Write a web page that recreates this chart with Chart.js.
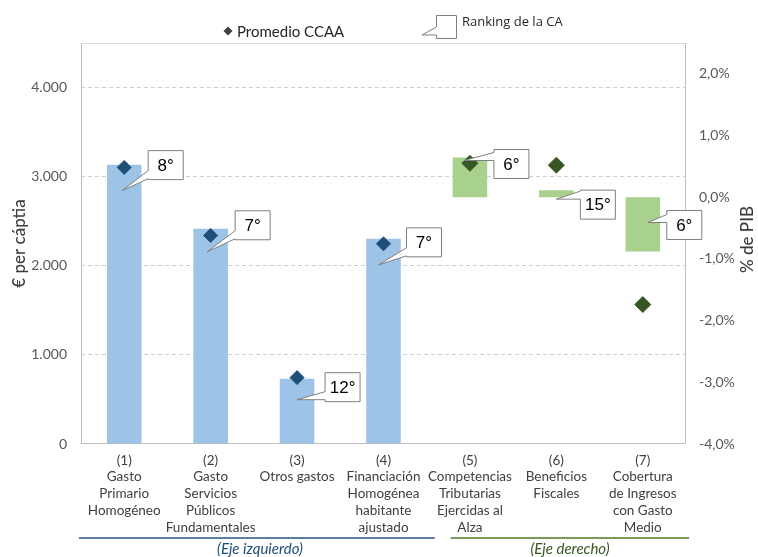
<!DOCTYPE html>
<html>
<head>
<meta charset="utf-8">
<script src="https://cdn.jsdelivr.net/npm/chart.js@4"></script>
<style>
  body { margin: 0; background: #fff; }
  #wrap { width: 758px; height: 557px; }
</style>
</head>
<body>
<div id="wrap"><canvas id="myChart" width="758" height="557"></canvas></div>
<script>
// Categories (multi-line labels)
const categories = [
  ['(1)', 'Gasto', 'Primario', 'Homogéneo'],
  ['(2)', 'Gasto', 'Servicios', 'Públicos', 'Fundamentales'],
  ['(3)', 'Otros gastos'],
  ['(4)', 'Financiación', 'Homogénea', 'habitante', 'ajustado'],
  ['(5)', 'Competencias', 'Tributarias', 'Ejercidas al', 'Alza'],
  ['(6)', 'Beneficios', 'Fiscales'],
  ['(7)', 'Cobertura', 'de Ingresos', 'con Gasto', 'Medio']
];

// Left axis (€ per cápita)
const valorCA = [3135, 2415, 733, 2302, null, null, null];
const promedioEuros = [3104, 2340, 745, 2246, null, null, null];

// Right axis (% de PIB)
const valorCAPib = [null, null, null, null, 0.644, 0.115, -0.88];
const promedioPib = [null, null, null, null, 0.55, 0.52, -1.74];

// Ranking of the CA for every category
const ranking = ['8°', '7°', '12°', '7°', '6°', '15°', '6°'];

// Axis ranges and tick values
const leftMin = 0, leftMax = 4500;
const leftTicks = [0, 1000, 2000, 3000, 4000];
const rightMin = -4, rightMax = 2.5;
const rightTicks = [-4, -3, -2, -1, 0, 1, 2];

// where each callout sits relative to its bar (tail tip + box corner), px
const calloutPlace = [
  { dx: -2, dy: 26, bx: 26, by: -40 },
  { dx: -3.5, dy: 23, bx: 28, by: -41 },
  { dx: 0, dy: 21, bx: 28, by: -27 },
  { dx: -5, dy: 26, bx: 28, by: -37 },
  { dx: -6, dy: 3, bx: 30, by: -11 },
  { dx: 0, dy: 9, bx: 24, by: -9 },
  { dx: 5, dy: -29, bx: 19, by: -12 }
];

const FONT = "Lato, 'Open Sans', sans-serif";
const BLUE_BAR = '#9DC3E6', BLUE_DOT = '#1F4E79';
const GREEN_BAR = '#A9D18E', GREEN_DOT = '#375623';

function fmtThousands(v) {
  return String(Math.round(v)).replace(/\B(?=(\d{3})+(?!\d))/g, '.');
}

// draws a box with a wedge tail pointing at (tx, ty)
function drawCallout(ctx, x, y, w, h, tx, ty, text, fontSize) {
  const bottom = y + h;
  let b1 = Math.min(ty, bottom - 1);
  let b0 = b1 - 8;
  if (b0 < y + 1) { b0 = y + 1; b1 = b0 + 8; }
  ctx.save();
  ctx.beginPath();
  ctx.moveTo(x, y);
  ctx.lineTo(x + w, y);
  ctx.lineTo(x + w, bottom);
  ctx.lineTo(x, bottom);
  ctx.lineTo(x, b1);
  ctx.lineTo(tx, ty);
  ctx.lineTo(x, b0);
  ctx.closePath();
  ctx.fillStyle = '#ffffff';
  ctx.fill();
  ctx.strokeStyle = '#7F7F7F';
  ctx.lineWidth = 1;
  ctx.stroke();
  if (text) {
    ctx.fillStyle = '#000000';
    ctx.font = fontSize + "px 'Liberation Sans', Arial, sans-serif";
    ctx.textAlign = 'center';
    ctx.textBaseline = 'middle';
    ctx.fillText(text, x + w / 2, y + h / 2 + 1);
  }
  ctx.restore();
}

const extrasPlugin = {
  id: 'extras',
  beforeDatasetsDraw(chart) {
    const { ctx, chartArea: a } = chart;
    ctx.save();
    ctx.lineWidth = 1;
    ctx.strokeStyle = '#D9D9D9';
    ctx.beginPath();
    ctx.moveTo(a.left, a.top + 0.5);
    ctx.lineTo(a.right, a.top + 0.5);
    ctx.stroke();
    ctx.strokeStyle = '#BFBFBF';
    ctx.beginPath();
    ctx.moveTo(a.left + 0.5, a.top);
    ctx.lineTo(a.left + 0.5, a.bottom);
    ctx.moveTo(a.right - 0.5, a.top);
    ctx.lineTo(a.right - 0.5, a.bottom);
    ctx.moveTo(a.left, a.bottom - 0.5);
    ctx.lineTo(a.right, a.bottom - 0.5);
    ctx.stroke();
    ctx.restore();
  },
  afterDatasetsDraw(chart) {
    const { ctx, chartArea: a } = chart;
    const x = chart.scales.x;
    const blueBars = chart.getDatasetMeta(2).data;
    const greenBars = chart.getDatasetMeta(3).data;

    // ranking callouts
    ranking.forEach((txt, i) => {
      const bar = i < 4 ? blueBars[i] : greenBars[i];
      const p = calloutPlace[i];
      const tx = bar.x + p.dx, ty = bar.y + p.dy;
      drawCallout(ctx, tx + p.bx, ty + p.by, 35, 29, tx, ty, txt, 17);
    });

    ctx.save();
    // axis titles
    ctx.fillStyle = '#3A3A3A';
    ctx.font = '500 17px ' + FONT;
    ctx.textAlign = 'center';
    ctx.textBaseline = 'middle';
    const midY = (a.top + a.bottom) / 2;
    ctx.save();
    ctx.translate(20, midY);
    ctx.rotate(-Math.PI / 2);
    ctx.fillText('€ per cáptia', 0, 0);
    ctx.restore();
    ctx.save();
    ctx.translate(748, midY - 4);
    ctx.rotate(-Math.PI / 2);
    ctx.fillText('% de PIB', 0, 0);
    ctx.restore();

    // legend
    ctx.fillStyle = '#404040';
    ctx.beginPath();
    ctx.moveTo(228 - 4.5, 31); ctx.lineTo(228, 31 - 4.5);
    ctx.lineTo(228 + 4.5, 31); ctx.lineTo(228, 31 + 4.5);
    ctx.closePath();
    ctx.fill();
    ctx.fillStyle = '#262626';
    ctx.font = '15px ' + FONT;
    ctx.textAlign = 'left';
    ctx.fillText('Promedio CCAA', 237, 32);
    drawCallout(ctx, 436.5, 15.5, 20, 23, 422, 35, '', 0);
    ctx.fillStyle = '#262626';
    ctx.font = "13px 'Open Sans', " + FONT;
    ctx.fillText('Ranking de la CA', 462, 22);

    // axis group lines under the categories
    const half = (x.getPixelForValue(1) - x.getPixelForValue(0)) / 2;
    const lineY = 538;
    const bl0 = a.left - 2, bl1 = x.getPixelForValue(3) + half + 8;
    const gl0 = x.getPixelForValue(4) - half + 24, gl1 = a.right + 3;
    ctx.lineWidth = 2;
    ctx.strokeStyle = '#5B7FA6';
    ctx.beginPath(); ctx.moveTo(bl0, lineY); ctx.lineTo(bl1, lineY); ctx.stroke();
    ctx.strokeStyle = '#7A9A5A';
    ctx.beginPath(); ctx.moveTo(gl0, lineY); ctx.lineTo(gl1, lineY); ctx.stroke();
    ctx.font = 'italic 15px ' + FONT;
    ctx.textAlign = 'center';
    ctx.fillStyle = '#1F4E79';
    ctx.fillText('(Eje izquierdo)', 260, 549);
    ctx.fillStyle = '#375623';
    ctx.fillText('(Eje derecho)', 570, 549);
    ctx.restore();
  }
};

window.onload = function() {
  const ctx = document.getElementById('myChart').getContext('2d');
  new Chart(ctx, {
    data: {
      labels: categories,
      datasets: [
        {
          type: 'line', label: 'Promedio CCAA', data: promedioEuros, yAxisID: 'y',
          showLine: false, pointStyle: 'rectRot', pointRadius: 7,
          pointBackgroundColor: BLUE_DOT, pointBorderColor: BLUE_DOT, order: 0
        },
        {
          type: 'line', label: 'Promedio CCAA (PIB)', data: promedioPib, yAxisID: 'y1',
          showLine: false, pointStyle: 'rectRot', pointRadius: 8,
          pointBackgroundColor: GREEN_DOT, pointBorderColor: GREEN_DOT, order: 0
        },
        {
          type: 'bar', label: 'CA', data: valorCA, yAxisID: 'y',
          backgroundColor: BLUE_BAR, grouped: false,
          categoryPercentage: 1, barPercentage: 0.4, order: 1
        },
        {
          type: 'bar', label: 'CA (PIB)', data: valorCAPib, yAxisID: 'y1',
          backgroundColor: GREEN_BAR, grouped: false,
          categoryPercentage: 1, barPercentage: 0.4, order: 1
        }
      ]
    },
    options: {
      responsive: false,
      animation: false,
      layout: { padding: { top: 43, left: 0, right: 0, bottom: 0 } },
      plugins: { legend: { display: false }, tooltip: { enabled: false } },
      scales: {
        x: {
          grid: { display: false, drawTicks: false },
          border: { display: false },
          ticks: {
            color: '#404040', font: { family: FONT, size: 13.5, lineHeight: 1.24 },
            maxRotation: 0, minRotation: 0, autoSkip: false, padding: 8
          },
          afterFit(s) { s.height = 113; }
        },
        y: {
          position: 'left', min: leftMin, max: leftMax,
          grid: {
            drawTicks: false,
            color: (c) => c.tick && c.tick.value === 0 ? 'rgba(0,0,0,0)' : '#D0D0D0'
          },
          border: { display: false, dash: [4, 3] },
          ticks: {
            padding: 14, color: '#595959',
            font: { family: FONT, size: 14 },
            callback: (v) => fmtThousands(v)
          },
          afterBuildTicks(s) { s.ticks = leftTicks.map((v) => ({ value: v })); },
          afterFit(s) { s.width = 81; }
        },
        y1: {
          position: 'right', min: rightMin, max: rightMax,
          grid: { display: false, drawTicks: false },
          border: { display: false },
          ticks: {
            padding: 13, color: '#595959',
            font: { family: FONT, size: 14 },
            callback: (v) => v.toFixed(1).replace('.', ',') + '%'
          },
          afterBuildTicks(s) { s.ticks = rightTicks.map((v) => ({ value: v })); },
          afterFit(s) { s.width = 72; }
        }
      }
    },
    plugins: [extrasPlugin]
  });
};
</script>
</body>
</html>
